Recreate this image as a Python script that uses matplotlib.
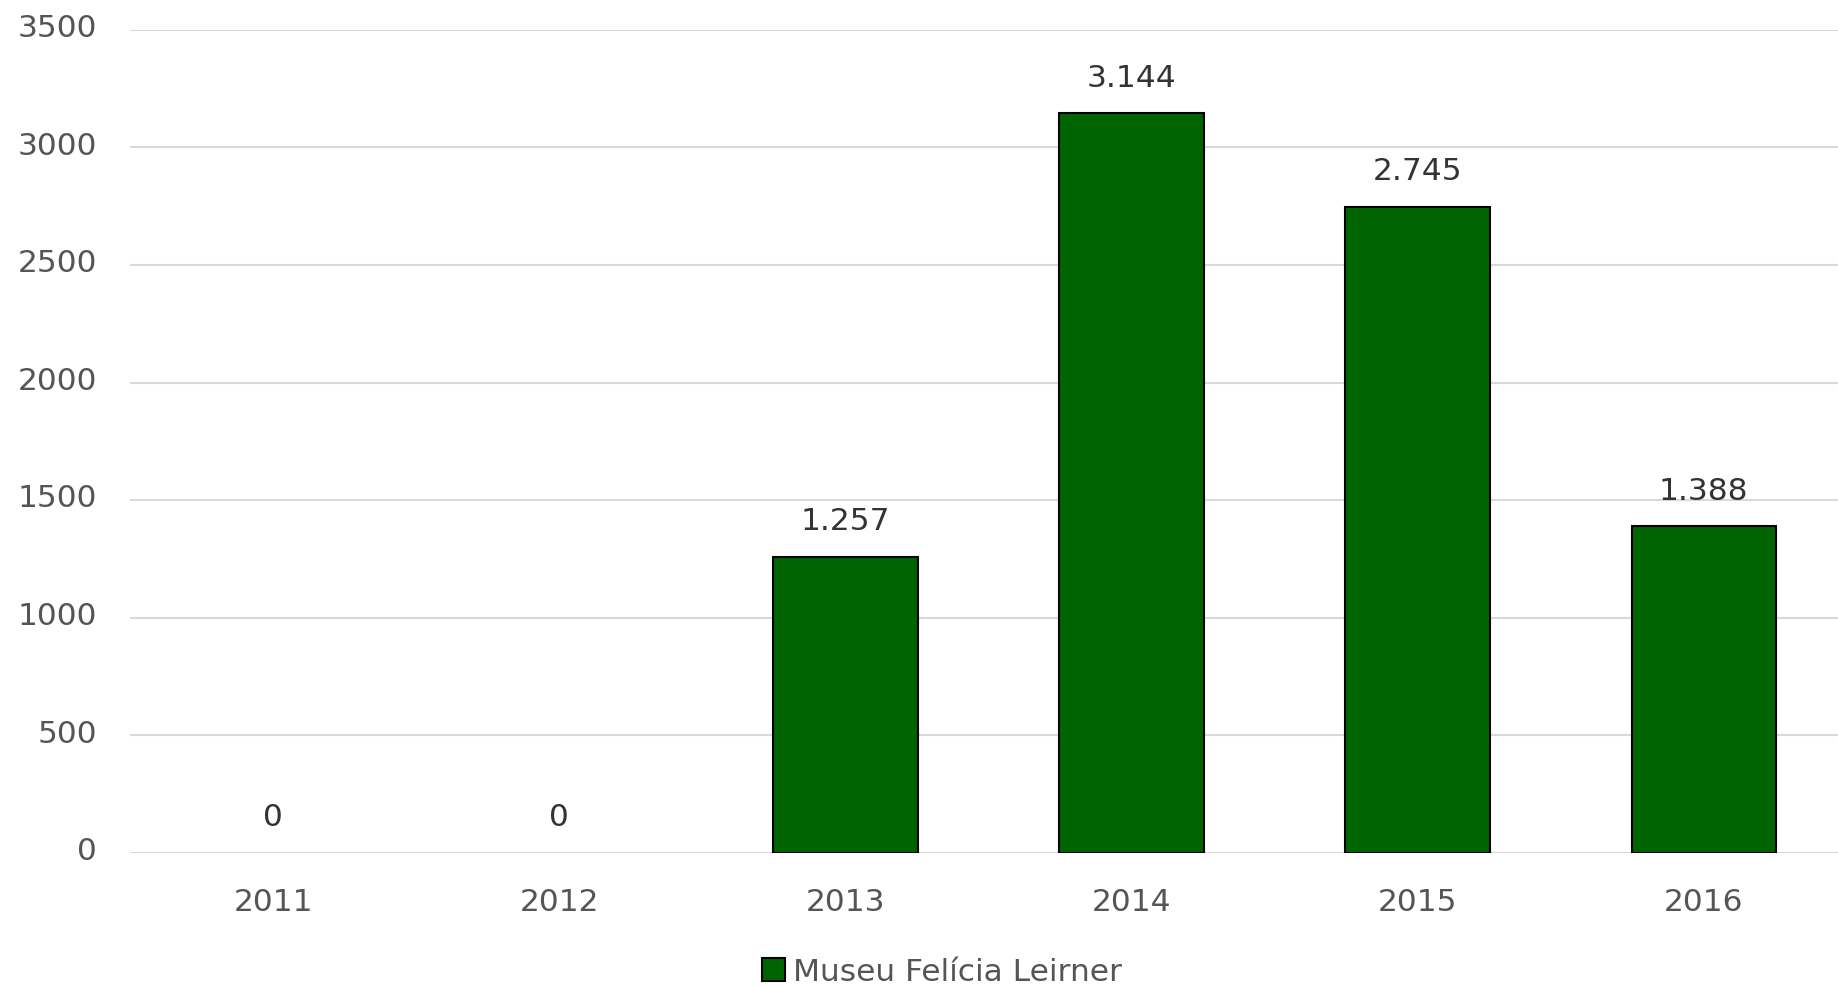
import matplotlib
matplotlib.use("Agg")
import matplotlib.pyplot as plt
import matplotlib.transforms as mtransforms
from matplotlib.patches import Patch

# dados
anos = ["2011", "2012", "2013", "2014", "2015", "2016"]
visitantes = [0, 0, 1257, 3144, 2745, 1388]
rotulos = ["0", "0", "1.257", "3.144", "2.745", "1.388"]
serie = "Museu Felícia Leirner"
yticks = [0, 500, 1000, 1500, 2000, 2500, 3000, 3500]

COR = "#006400"
CINZA = "#555555"
FS = 22.5

plt.rcParams["font.family"] = ["DejaVu Sans"]

fig = plt.figure(figsize=(18.38, 9.89), dpi=100)
ax = fig.add_axes([0.0708, 0.1375, 0.934, 0.8325])

x = list(range(len(anos)))
bars = ax.bar(x, visitantes, width=0.505, color=COR, edgecolor="black",
              linewidth=1.5, zorder=3)
for b, v in zip(bars, visitantes):
    if v == 0:
        b.set_visible(False)

for xi, v, lab in zip(x, visitantes, rotulos):
    ax.annotate(lab, (xi, v), xytext=(0, 15), textcoords="offset points",
                ha="center", va="bottom", fontsize=FS, color="#333333")

ax.set_xlim(-0.5, len(anos) - 0.5)
ax.set_ylim(0, 3500)
ax.set_yticks(yticks)
ax.set_yticklabels([str(t) for t in yticks])
ax.set_xticks(x)
ax.set_xticklabels(anos)
ax.tick_params(axis="y", length=0, pad=24, labelsize=FS, labelcolor=CINZA)
ax.tick_params(axis="x", length=0, pad=25, labelsize=FS, labelcolor=CINZA)
ax.grid(axis="y", color="#d9d9d9", linewidth=1.5, zorder=0)
for s in ax.spines.values():
    s.set_visible(False)

# rotulos do eixo y um pouco acima das linhas de grade
desloc = mtransforms.ScaledTranslation(0, 3 / 72, fig.dpi_scale_trans)
for t in ax.get_yticklabels():
    t.set_transform(t.get_transform() + desloc)

fig.legend(handles=[Patch(facecolor=COR, edgecolor="black", linewidth=1.5, label=serie)],
           loc="center", bbox_to_anchor=(0.5125, 0.017), frameon=False,
           fontsize=FS, labelcolor=CINZA, handlelength=0.75, handleheight=0.75,
           handletextpad=0.25, borderaxespad=0)

fig.savefig("out.png", dpi=100)
